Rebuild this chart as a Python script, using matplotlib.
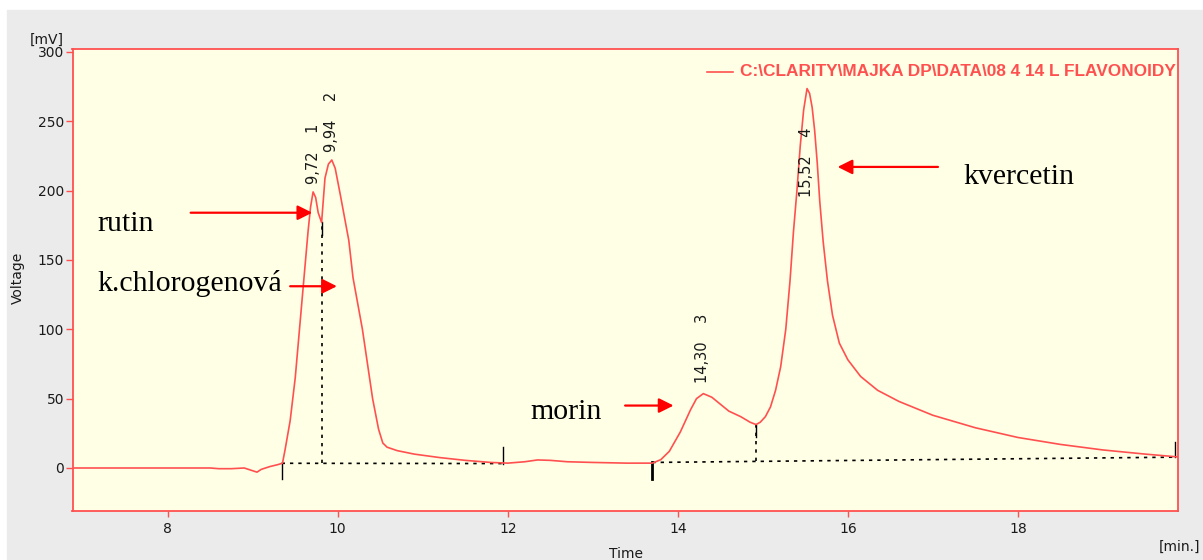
import matplotlib
matplotlib.use("Agg")
import matplotlib.pyplot as plt
from matplotlib.patches import Rectangle
from matplotlib.lines import Line2D

# chromatogram trace: time [min], voltage [mV]
time_min = [6.88, 7.5, 8.0, 8.5, 8.6, 8.75, 8.9, 9.0, 9.05, 9.1, 9.2, 9.3, 9.35,
            9.38, 9.44, 9.5, 9.55, 9.6, 9.65, 9.68, 9.71, 9.74, 9.77, 9.81, 9.85,
            9.89, 9.93, 9.97, 10.03, 10.13, 10.18, 10.29, 10.41, 10.48, 10.53,
            10.58, 10.7, 10.9, 11.2, 11.5, 11.8, 12.0, 12.2, 12.35, 12.5, 12.7,
            13.0, 13.4, 13.7, 13.8, 13.9, 14.03, 14.15, 14.22, 14.3, 14.4, 14.5,
            14.6, 14.74, 14.85, 14.92, 14.97, 15.03, 15.09, 15.15, 15.21, 15.27,
            15.32, 15.36, 15.4, 15.44, 15.48, 15.52, 15.55, 15.58, 15.61, 15.64,
            15.67, 15.71, 15.76, 15.82, 15.9, 16.0, 16.15, 16.35, 16.6, 17.0,
            17.5, 18.0, 18.5, 19.0, 19.5, 19.88]
voltage_mv = [0, 0, 0, 0, -0.5, -0.5, 0, -2, -3, -1, 1, 2.5, 3.5,
              13, 34, 65, 100, 135, 170, 188, 199, 195, 184, 177, 209,
              219, 222, 216, 197, 164, 137, 100, 50, 28, 18,
              15, 12.5, 10, 7.5, 5.5, 4, 3.5, 4.5, 5.8, 5.5, 4.5,
              4, 3.5, 3.5, 6, 12, 26, 42, 50, 53.6, 51, 46,
              41, 37, 33, 31.3, 33, 37, 44, 56, 73, 100,
              135, 170, 199, 232, 258, 273.5, 270, 260, 243, 220,
              192, 163, 135, 110, 90, 78, 66, 56, 48, 38,
              29, 22, 17, 13, 10, 8]

# integration baselines and peak marks
base1_t = [9.34, 11.94]
base1_v = [3.4, 3.2]
base2_t = [13.7, 19.85]
base2_v = [4.0, 7.8]
drop_t = [9.81, 14.92]
drop_top = [177, 31.3]

peak_t = [9.71, 9.93, 14.29, 15.51]
peak_label_v = [205, 228, 61, 195]
peak_labels = ["9,72    1", "9,94    2", "14,30    3", "15,52    4"]

# compound annotations: name, text position, arrow tail, arrow head
names = ["rutin", "k.chlorogenová", "morin", "kvercetin"]
name_xy = [(7.17, 176), (7.17, 133), (12.27, 40), (17.36, 210)]
arrow_from = [(8.27, 184), (9.44, 131), (13.38, 45), (17.06, 217)]
arrow_to = [(9.70, 184), (9.99, 131), (13.95, 45), (15.88, 217)]

RED = "#ff5050"
W, H = 1203, 560

fig = plt.figure(figsize=(W / 100, H / 100), dpi=100)
fig.patch.set_facecolor("white")
fig.patches.append(Rectangle((7 / W, 0), 1 - 7 / W, 550 / H,
                             transform=fig.transFigure, color="#ebebeb", zorder=-1))

ax = fig.add_axes([72.5 / W, 49 / H, (1177.7 - 72.5) / W, (511 - 49) / H])
ax.set_facecolor("#ffffe5")
ax.set_xlim(6.88, 19.88)
ax.set_ylim(-31, 302)

ax.plot(time_min, voltage_mv, color=RED, lw=1.2, zorder=3)

# baselines
ax.plot(base1_t, base1_v, color="black", lw=1.2, ls=(0, (2, 3)), zorder=2)
ax.plot(base2_t, base2_v, color="black", lw=1.2, ls=(0, (2, 3)), zorder=2)
for t, top in zip(drop_t, drop_top):
    b = base1_v[0] if t < 12 else base2_v[0] + (t - base2_t[0]) / (base2_t[1] - base2_t[0]) * (base2_v[1] - base2_v[0])
    ax.plot([t, t], [b, top], color="black", lw=1.2, ls=(0, (2, 3)), zorder=2)
    ax.plot([t, t], [top - 9, top], color="black", lw=1.0, zorder=2)
# start / end marks
ax.plot([base1_t[0]] * 2, [-8, base1_v[0]], color="black", lw=1.0)
ax.plot([base1_t[1]] * 2, [base1_v[1], 15], color="black", lw=1.0)
ax.plot([base2_t[0]] * 2, [-8, base2_v[0]], color="black", lw=2.0)
ax.plot([base2_t[1]] * 2, [base2_v[1], 19], color="black", lw=1.0)

for t, v, s in zip(peak_t, peak_label_v, peak_labels):
    ax.text(t, v, s, rotation=90, ha="center", va="bottom", fontsize=10.5,
            color="#1a1a1a", zorder=4)

for s, xy, a, b in zip(names, name_xy, arrow_from, arrow_to):
    ax.text(xy[0], xy[1], s, family="Liberation Serif", fontsize=21.5,
            ha="left", va="center", color="black")
    ax.annotate("", xy=b, xytext=a,
                arrowprops=dict(arrowstyle="-|>", color="red", lw=1.6,
                                mutation_scale=22, shrinkA=0, shrinkB=0))

for sp in ax.spines.values():
    sp.set_color(RED)
    sp.set_linewidth(1.3)
ax.set_xticks([8, 10, 12, 14, 16, 18])
ax.set_yticks([0, 50, 100, 150, 200, 250, 300])
ax.tick_params(axis="both", colors=RED, labelcolor="#1a1a1a", labelsize=10,
               direction="out", width=1.0)
ax.tick_params(axis="y", length=5, pad=1)
ax.tick_params(axis="x", length=4.5, pad=3.5)

# legend entry
ax.add_line(Line2D([707 / W, 733 / W], [1 - 72 / H] * 2, transform=fig.transFigure,
                   color=RED, lw=1.2))
fig.text(740 / W, 1 - 72 / H, "C:\\CLARITY\\MAJKA DP\\DATA\\08 4 14 L FLAVONOIDY",
         family="Liberation Sans", weight="bold", fontsize=12.4, color=RED,
         ha="left", va="center")

fig.text(47 / W, 1 - 40 / H, "[mV]", fontsize=10, ha="center", va="center", color="#1a1a1a")
fig.text(18 / W, 1 - 278 / H, "Voltage", fontsize=10, rotation=90, ha="center", va="center", color="#1a1a1a")
fig.text(626 / W, 1 - 554 / H, "Time", fontsize=10, ha="center", va="center", color="#1a1a1a")
fig.text(1200 / W, 1 - 547 / H, "[min.]", fontsize=10, ha="right", va="center", color="#1a1a1a")

fig.savefig("out.png", dpi=100)
plt.close(fig)
